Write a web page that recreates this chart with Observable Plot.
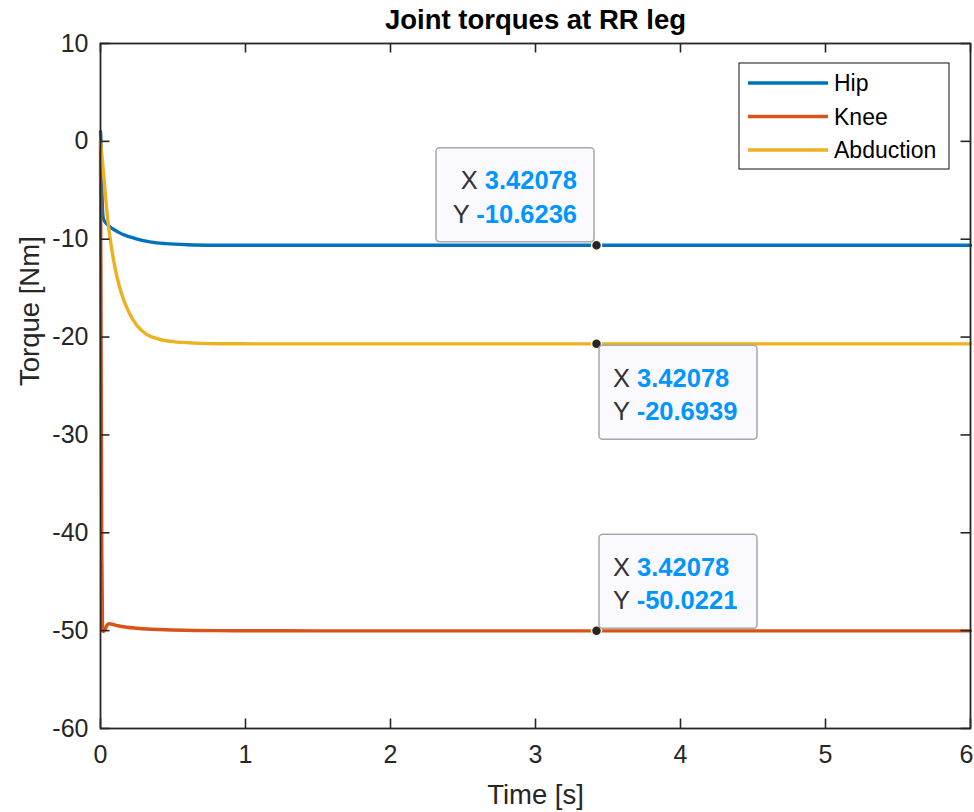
<!DOCTYPE html>
<html><head><meta charset="utf-8">
<script src="https://cdn.jsdelivr.net/npm/d3@7"></script>
<script src="https://cdn.jsdelivr.net/npm/@observablehq/plot@0.6"></script>
<style>
html,body{margin:0;padding:0;background:#fff;}
#chart svg{display:block;}
</style>
</head><body><div id="chart"></div>
<script>
// ---- data ----
const seriesNames = ["Hip", "Knee", "Abduction"];
const seriesColors = ["#0072BD", "#D95319", "#EDB120"];

const hipT = [0, 0.003, 0.008, 0.014, 0.02, 0.035, 0.05, 0.08, 0.12, 0.16, 0.22, 0.28, 0.35, 0.45, 0.6, 0.8, 1.0, 1.5, 2, 3, 3.42078, 4, 5, 6];
const hipV = [1.0, 0.2, -4.0, -7.0, -7.9, -8.3, -8.55, -8.9, -9.25, -9.55, -9.85, -10.1, -10.3, -10.45, -10.56, -10.61, -10.62, -10.623, -10.6236, -10.6236, -10.6236, -10.6236, -10.6236, -10.6236];

const kneeT = [0, 0.004, 0.009, 0.014, 0.02, 0.03, 0.045, 0.06, 0.08, 0.12, 0.18, 0.25, 0.32, 0.4, 0.5, 0.65, 0.8, 1.0, 1.5, 2, 3, 3.42078, 4, 5, 6];
const kneeV = [0, -20, -42, -49.8, -50.1, -49.9, -49.45, -49.3, -49.35, -49.5, -49.65, -49.75, -49.83, -49.89, -49.94, -49.98, -50.0, -50.015, -50.02, -50.022, -50.0221, -50.0221, -50.0221, -50.0221, -50.0221];

const abdT = [0, 0.01, 0.025, 0.05, 0.075, 0.1, 0.13, 0.16, 0.2, 0.25, 0.32, 0.4, 0.5, 0.65, 0.85, 1.1, 1.5, 2, 3, 3.42078, 4, 5, 6];
const abdV = [0, -1.5, -4.0, -8.0, -10.8, -12.9, -14.8, -16.2, -17.6, -18.8, -19.75, -20.2, -20.47, -20.62, -20.68, -20.692, -20.6939, -20.6939, -20.6939, -20.6939, -20.6939, -20.6939, -20.6939];

const xTicks = [0, 1, 2, 3, 4, 5, 6];
const yTicks = [-60, -50, -40, -30, -20, -10, 0, 10];

const tipX = 3.42078;
const tipSeries = ["Hip", "Abduction", "Knee"];
const tipValues = [-10.6236, -20.6939, -50.0221];

const titleText = "Joint torques at RR leg";
const xLabel = "Time [s]";
const yLabel = "Torque [Nm]";

// ---- build table ----
const seriesT = [hipT, kneeT, abdT];
const seriesV = [hipV, kneeV, abdV];
const rows = seriesNames.flatMap((s, i) => seriesT[i].map((t, j) => ({series: s, t, v: seriesV[i][j]})));
const tips = tipSeries.map((s, i) => ({series: s, x: tipX, y: tipValues[i]}));

const W = 974, H = 812, mL = 100, mR = 4, mT = 43, mB = 84;
const frameW = W - mL - mR, frameH = H - mT - mB;
const FONT = "'Liberation Sans', Arial, Helvetica, sans-serif";
const AX = "#262626";
const TICK = 9.5;
const lastTick = xTicks[xTicks.length - 1];

const chart = Plot.plot({
  width: W, height: H,
  marginLeft: mL, marginRight: mR, marginTop: mT, marginBottom: mB,
  style: {fontFamily: FONT, background: "#fff", color: AX, overflow: "visible"},
  x: {domain: [0, 6]},
  y: {domain: [-60, 10]},
  color: {domain: seriesNames, range: seriesColors},
  marks: [
    Plot.line(rows, {x: "t", y: "v", stroke: "series", z: "series", curve: "monotone-x", strokeWidth: 3.4, strokeLinejoin: "round"}),
    Plot.frame({stroke: AX, strokeWidth: 1.8}),
    Plot.tickX(xTicks, {x: d => d, insetTop: frameH - TICK, stroke: AX, strokeWidth: 1.6}),
    Plot.tickX(xTicks, {x: d => d, insetBottom: frameH - TICK, stroke: AX, strokeWidth: 1.6}),
    Plot.tickY(yTicks, {y: d => d, insetRight: frameW - TICK, stroke: AX, strokeWidth: 1.6}),
    Plot.tickY(yTicks, {y: d => d, insetLeft: frameW - TICK, stroke: AX, strokeWidth: 1.6}),
    Plot.axisX({ticks: xTicks.filter(d => d !== lastTick), tickSize: 0, tickPadding: 17, fontSize: 25, label: null, tickFormat: d => String(d)}),
    Plot.axisX({ticks: [lastTick], tickSize: 0, tickPadding: 17, fontSize: 25, label: null, dx: -4, tickFormat: d => String(d)}),
    Plot.axisY({ticks: yTicks, tickSize: 0, tickPadding: 12, fontSize: 25, label: null, tickFormat: d => String(d)}),
    Plot.text([titleText], {text: d => d, frameAnchor: "top", dy: -23, fontSize: 27.5, fontWeight: "bold", fill: "#000", lineAnchor: "middle"}),
    Plot.text([xLabel], {text: d => d, frameAnchor: "bottom", dy: 67, fontSize: 27.5, fill: AX, lineAnchor: "middle"}),
    Plot.text([yLabel], {text: d => d, frameAnchor: "left", dx: -70, rotate: -90, fontSize: 27.5, fill: AX, lineAnchor: "middle"}),
    Plot.dot(tips, {x: "x", y: "y", r: 5, fill: AX, stroke: "#fffbe0", strokeWidth: 1.5})
  ]
});

// ---- data tips (positioned through Plot's scales) ----
const xs = chart.scale("x"), ys = chart.scale("y");
const svg = d3.select(chart);
const tipLayer = svg.append("g").attr("font-family", FONT);
const placement = {Hip: "left", Abduction: "below", Knee: "above"};
const boxW = 158, boxH = 94;
tips.forEach(tp => {
  const px = xs.apply(tp.x), py = ys.apply(tp.y);
  const mode = placement[tp.series];
  let left, top, tx, anchor;
  if (mode === "left") { left = px - boxW - 2; top = py - boxH - 3; tx = px - 19; anchor = "end"; }
  else if (mode === "below") { left = px + 3; top = py + 2; tx = px + 17; anchor = "start"; }
  else { left = px + 3; top = py - boxH - 2; tx = px + 17; anchor = "start"; }
  tipLayer.append("rect").attr("x", left).attr("y", top).attr("width", boxW).attr("height", boxH)
    .attr("rx", 3.5).attr("fill", "#f9f9fe").attr("stroke", "#a8a8a8").attr("stroke-width", 1.5);
  [["X", tp.x], ["Y", tp.y]].forEach(([lab, val], k) => {
    const t = tipLayer.append("text").attr("x", tx).attr("y", top + 41.5 + k * 33.5)
      .attr("text-anchor", anchor).attr("font-size", 25.5);
    t.append("tspan").attr("fill", "#333").text(lab + " ");
    t.append("tspan").attr("fill", "#0096ff").attr("font-weight", "bold").text(String(val));
  });
});

// ---- legend box ----
const leg = svg.append("g").attr("font-family", FONT).attr("text-anchor", "start");
const legX = mL + frameW - 231, legY = mT + 20;
leg.append("rect").attr("x", legX).attr("y", legY).attr("width", 210).attr("height", 106)
  .attr("fill", "#fff").attr("stroke", AX).attr("stroke-width", 1.1);
seriesNames.forEach((s, i) => {
  const yy = legY + 20 + i * 33.5;
  leg.append("line").attr("x1", legX + 9).attr("x2", legX + 89).attr("y1", yy).attr("y2", yy)
    .attr("stroke", seriesColors[i]).attr("stroke-width", 3.4);
  leg.append("text").attr("x", legX + 95).attr("y", yy).attr("dy", "0.36em")
    .attr("text-anchor", "start").attr("font-size", 23).attr("fill", "#000").text(s);
});

document.getElementById("chart").append(chart);
</script>
</body></html>
